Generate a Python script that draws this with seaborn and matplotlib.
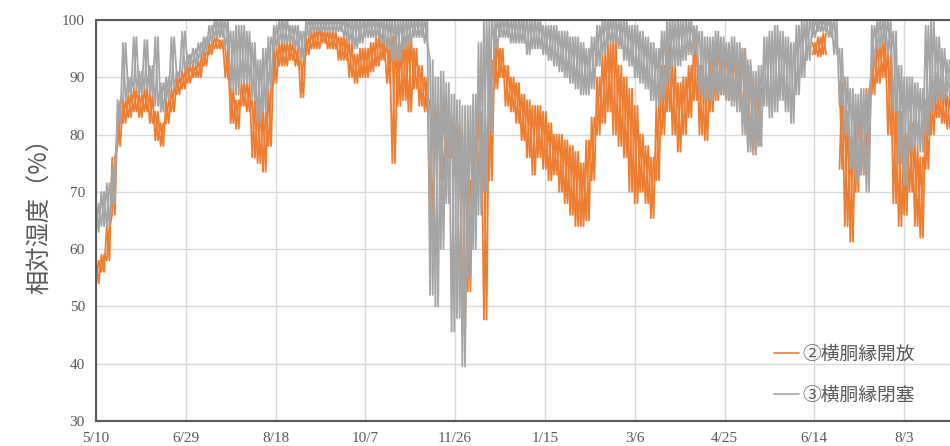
import numpy as np
import pandas as pd
import matplotlib
matplotlib.use("Agg")
import matplotlib.pyplot as plt
from matplotlib.lines import Line2D
import seaborn as sns

# Sampling days, counted from 5/10 (one sample every 3 days)
day = np.arange(0, 475, 3)

nan = np.nan
# ② 横胴縁開放 : lower / upper envelope of relative humidity within each 3-day window
open_lo = [54, 56, 58, 66, 78, 82, 83, 84, 83, 84,
           82, 79, 78, 82, 84, 87, 88, 89, 90, 90,
           92, 94, 95, 95, 90, 82, 81, 85, 84, 76,
           75, 73.5, 78, 89, 92, 92, 93, 92, 86.5, 94,
           95, 95, 96, 95, 95, 93, 93, 90, 89, 90,
           90, 91, 92, 93, 89, 75, 85, 86, 84, 88,
           85, 84, 64, 78, 72, 76, 76, 74, 45, 52.6,
           68, 74, 47.7, 72, 88, 90, 85, 84, 82, 79,
           76, 73, 76, 74, 72, 73, 70, 68, 66, 64,
           64, 65, 72, 80, 82, 84, 80, 78, 76, 70,
           68, 70, 68, 65.4, 72, 80, 84, 80, 77, 80,
           83, 86, 80, 79, 84, 86, 87, 86, 86, 86,
           82, 78, 76.5, 78, nan, nan, nan, nan, nan, nan,
           nan, nan, nan, 94, 93.6, 94, nan, nan, 74, 64,
           61.3, 70, 73, 76, 87, 89, 90, 80, 68, 64,
           66, 70, 64, 62, 74, 80, 83, 82, 81]
open_hi = [58, 59, 64, 76, 83, 86, 87, 88, 87, 88,
           87, 84, 82, 86, 88, 90, 91, 92, 92, 93,
           94.5, 96, 97, 96.5, 95, 88, 86, 89, 89, 86,
           85, 84, 88, 95, 96, 96, 96, 95, 93, 97,
           98, 98.5, 98, 98, 98, 97, 97, 96, 94, 95,
           95, 96, 97, 96.5, 96, 97, 95, 97, 97, 95,
           92, 90, 86, 85, 84, 84, 83, 82, 80, 72,
           80, 84, 80, 93, 96, 95, 92, 90, 89, 87,
           86, 85, 85, 84, 82, 80, 80, 79, 78, 77,
           75, 79, 83, 90, 94, 96, 97, 92, 90, 88,
           85, 80, 78, 76, 85, 92, 96, 92, 89, 90,
           92, 97, 92, 90, 94, 96, 95, 95, 94, 93,
           95, 92, 90, 88, nan, nan, nan, nan, nan, nan,
           nan, nan, nan, 96, 97, 97.7, nan, nan, 89, 84,
           79, 84, 86, 88, 94, 96, 96.5, 94, 86, 84,
           80, 82, 78, 76, 86, 89, 89.5, 88, 87]

# ③ 横胴縁閉塞
closed_lo = [63, 64, 64, 68, 82, 86, 87, 88, 87, 88,
             87, 85, 84, 86, 88, 90, 91, 92, 92, 93,
             94.5, 96, 97, 97, 95, 88, 87, 89, 89, 86,
             82, 84, 88, 95, 96, 96, 96, 95, 93, 97,
             98, 98, 98, 98, 98, 98, 97, 96, 95, 96,
             97, 97, 97, 96, 95, 93, 93, 95, 96, 97,
             97, 96, 52, 50, 60, 68, 45.6, 48, 39.5, 55,
             60, 66, 70, 80, 95, 97, 97, 96, 96, 96,
             94, 95, 95, 94, 93, 92, 91, 90, 89, 88,
             87, 87, 88, 92, 94, 96, 96, 95, 93, 92,
             90, 89, 88, 86, 85, 86, 89, 92, 92, 93,
             94, 94, 87, 86, 86, 87, 87, 86, 85, 84,
             80, 77, 76.7, 78, 85, 83, 84, 86, 84, 82,
             87, 90, 93, 97, 98, 98, 97, 94, 85, 80,
             74, 72, 73, 70, 92, 95, 96, 94, 84, 75,
             71, 77, 78, 77, 80, 84, 86, 86, 87]
closed_hi = [68, 70, 71.5, 74, 86, 96, 90, 97, 91, 96.5,
             92, 97, 89, 90, 97, 91, 98, 94, 95, 96,
             97, 99, 100, 100, 100, 98, 99, 99, 98, 96,
             93, 95, 97, 99, 100, 100, 99, 99, 98, 100,
             100, 100, 100, 100, 100, 100, 100, 100, 100, 100,
             100, 100, 100, 100, 100, 100, 100, 100, 100, 100,
             100, 100, 93, 90, 91, 89, 87, 86, 85, 85,
             87, 96, 100, 100, 100, 100, 100, 100, 100, 100,
             100, 100, 100, 99, 99, 99, 98, 98, 97, 97,
             96, 95, 97, 99, 100, 100, 100, 100, 100, 99,
             99, 98, 97, 96, 95, 98, 100, 100, 100, 100,
             100, 99, 98, 97, 97, 98, 97, 96, 97, 96,
             95, 93, 91, 92, 97, 98, 99, 98, 97, 96,
             99, 100, 100, 100, 100, 100, 100, 100, 95, 90,
             88, 87, 88, 87, 99, 100, 100, 100, 98, 92,
             90, 90, 89, 88, 99, 100, 97, 95, 93]

tick_days = [0, 50, 100, 150, 200, 250, 300, 350, 400, 450]
tick_labels = ["5/10", "6/29", "8/18", "10/7", "11/26",
               "1/15", "3/6", "4/25", "6/14", "8/3"]
series_labels = ["②横胴縁開放", "③横胴縁閉塞"]
ORANGE = "#ED7D31"
GRAY = "#A5A5A5"


def trace(lo, hi):
    """Hourly readings swing between the low and high of each window.
    Two interleaved passes (high->low and low->high) fill the band;
    missing windows split the trace into separate segments."""
    rows, seg, gap = [], 0, False
    for d, l, h in zip(day, lo, hi):
        if np.isnan(l):
            if not gap:
                seg += 1
            gap = True
            continue
        gap = False
        rows += [(d, h, 2 * seg), (d + 1.5, l, 2 * seg),
                 (d, l, 2 * seg + 1), (d + 1.5, h, 2 * seg + 1)]
    return pd.DataFrame(rows, columns=["day", "rh", "pass"])


sns.set_theme(style="white")
plt.rcParams["font.family"] = ["Noto Sans CJK JP", "DejaVu Sans"]

fig = plt.figure(figsize=(9.5, 4.46), dpi=100)
ax = fig.add_axes([96 / 950, 25 / 446, 862 / 950, 401 / 446])

sns.lineplot(data=trace(open_lo, open_hi), x="day", y="rh", units="pass",
             estimator=None, color=ORANGE, linewidth=1.3, ax=ax, legend=False)
sns.lineplot(data=trace(closed_lo, closed_hi), x="day", y="rh", units="pass",
             estimator=None, color=GRAY, linewidth=1.3, ax=ax, legend=False)

ax.set_xlim(0, 480)
ax.set_ylim(30, 100)
ax.set_xticks(tick_days)
ax.set_xticklabels(tick_labels)
ax.set_yticks(range(30, 101, 10))
ax.grid(True, color="#D9D9D9", linewidth=1.0)
ax.set_axisbelow(True)
ax.tick_params(length=0, pad=8, labelsize=11, colors="#595959")
for lab in ax.get_xticklabels() + ax.get_yticklabels():
    lab.set_family(["Liberation Serif", "DejaVu Serif"])
for side in ("top", "left", "bottom"):
    ax.spines[side].set_color("#595959")
    ax.spines[side].set_linewidth(1.5)
ax.spines["right"].set_visible(False)
ax.set_xlabel("")
ax.set_ylabel("")
fig.text(40 / 950, 1 - 210 / 446, "相対湿度（%）", rotation=90,
         ha="center", va="center", fontsize=17.5, color="#595959")

handles = [Line2D([], [], color=ORANGE, linewidth=1.2),
           Line2D([], [], color=GRAY, linewidth=1.2)]
fig.legend(handles, series_labels, loc="upper left",
           bbox_to_anchor=(774 / 950, 1 - 344 / 446), frameon=False,
           fontsize=13.5, labelcolor="#595959", handlelength=1.35,
           handletextpad=0.15, labelspacing=1.05, borderpad=0,
           borderaxespad=0)

fig.savefig("out.png", dpi=100)
